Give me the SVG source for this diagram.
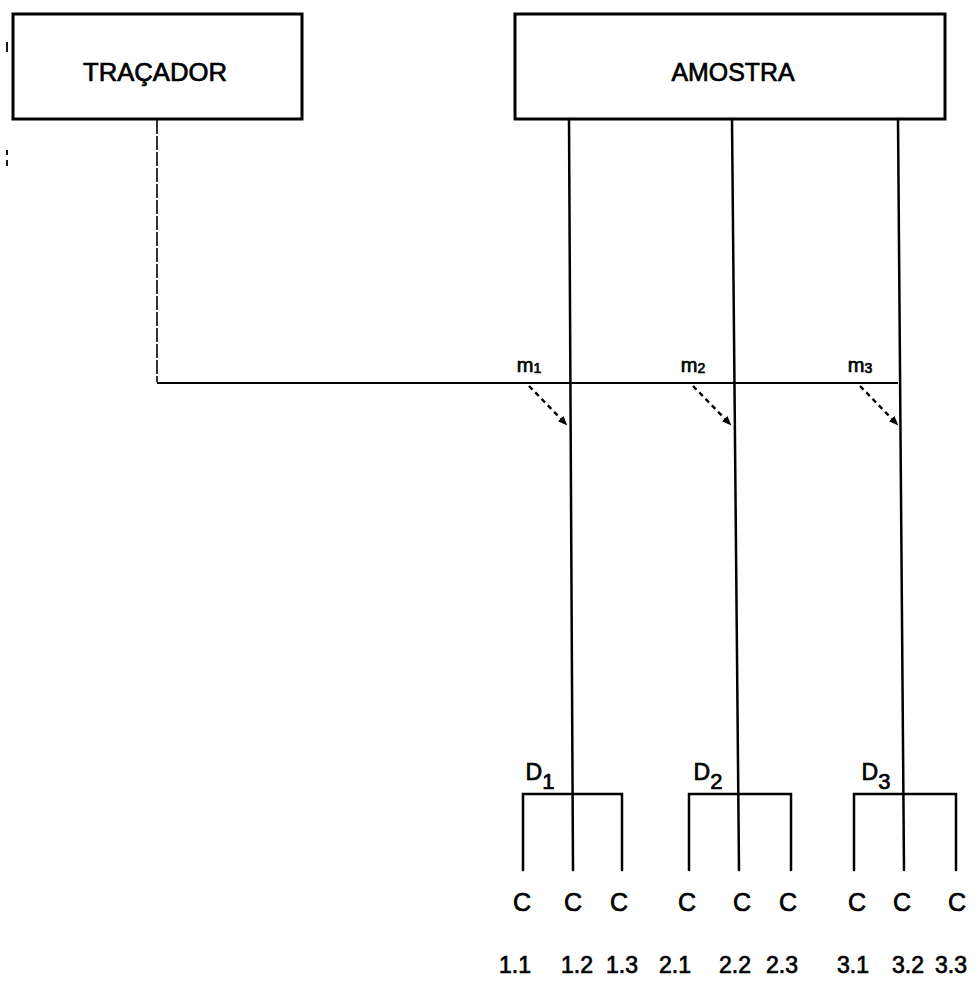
<svg xmlns="http://www.w3.org/2000/svg" width="977" height="981" viewBox="0 0 977 981">
<defs>
<marker id="dot" viewBox="0 0 10 10" refX="8" refY="5" markerWidth="4" markerHeight="4" orient="auto">
<path d="M0,1 L10,5 L0,9 Z" fill="#000"/>
</marker>
<style>
.box{fill:#fff;stroke:#000;stroke-width:3}
.ln{stroke:#000;stroke-width:2.5;fill:none;stroke-linecap:round}
.thin{stroke:#000;stroke-width:1.8;fill:none}
.dash{stroke:#000;stroke-width:2.4;fill:none;stroke-dasharray:5,4}
.t{font-family:"Liberation Sans","DejaVu Sans",sans-serif;fill:#000;stroke:#000;stroke-width:0.7;text-anchor:middle}
</style>
</defs>
<rect width="977" height="981" fill="#fff"/>
<g id="artifacts" class="thin">
<line x1="7" y1="42" x2="7" y2="52"/>
<line x1="7" y1="150" x2="7" y2="155"/>
<line x1="7" y1="160" x2="7" y2="166"/>
</g>
<g id="tracador">
<rect class="box" x="13" y="14" width="289" height="105"/>
<text class="t" x="155" y="81" font-size="26" textLength="144" lengthAdjust="spacingAndGlyphs">TRAÇADOR</text>
</g>
<g id="amostra">
<rect class="box" x="515" y="14" width="430" height="105"/>
<text class="t" x="733" y="81" font-size="26" textLength="123" lengthAdjust="spacingAndGlyphs">AMOSTRA</text>
</g>
<g id="connectors">
<line x1="157" y1="120" x2="157" y2="382" stroke="#000" stroke-width="1.6" stroke-dasharray="14,2"/>
<line class="thin" x1="157" y1="383" x2="898" y2="383"/>
<line class="ln" x1="569" y1="119" x2="573" y2="870"/>
<line class="ln" x1="732" y1="119" x2="739" y2="870"/>
<line class="ln" x1="898" y1="119" x2="904" y2="870"/>
<line class="dash" x1="529" y1="386" x2="566" y2="424" marker-end="url(#dot)"/>
<line class="dash" x1="693" y1="386" x2="730" y2="424" marker-end="url(#dot)"/>
<line class="dash" x1="860" y1="386" x2="897" y2="424" marker-end="url(#dot)"/>
<polyline class="ln" points="523,870 523,794 622,794 622,870"/>
<polyline class="ln" points="689,870 689,794 791,794 791,870"/>
<polyline class="ln" points="854,870 854,794 956,794 956,870"/>
</g>
<g id="m-labels">
<text class="t" x="529" y="372" font-size="20">m<tspan font-size="14" dy="1">1</tspan></text>
<text class="t" x="693" y="372" font-size="20">m<tspan font-size="14" dy="1">2</tspan></text>
<text class="t" x="860" y="372" font-size="20">m<tspan font-size="14" dy="1">3</tspan></text>
</g>
<g id="d1"><text class="t" x="540" y="780" font-size="23">D<tspan font-size="22" dy="9">1</tspan></text></g>
<g id="d2"><text class="t" x="708" y="780" font-size="23">D<tspan font-size="22" dy="9">2</tspan></text></g>
<g id="d3"><text class="t" x="876" y="780" font-size="23">D<tspan font-size="22" dy="9">3</tspan></text></g>
<g id="c-labels">
<text class="t" x="522" y="911" font-size="25">C</text>
<text class="t" x="573" y="911" font-size="25">C</text>
<text class="t" x="619" y="911" font-size="25">C</text>
<text class="t" x="687" y="911" font-size="25">C</text>
<text class="t" x="742" y="911" font-size="25">C</text>
<text class="t" x="788" y="911" font-size="25">C</text>
<text class="t" x="857" y="911" font-size="25">C</text>
<text class="t" x="902" y="911" font-size="25">C</text>
<text class="t" x="957" y="911" font-size="25">C</text>
</g>
<g id="numbers">
<text class="t" x="515" y="973" font-size="23">1.1</text>
<text class="t" x="577" y="973" font-size="23">1.2</text>
<text class="t" x="622" y="973" font-size="23">1.3</text>
<text class="t" x="675" y="973" font-size="23">2.1</text>
<text class="t" x="735" y="973" font-size="23">2.2</text>
<text class="t" x="782" y="973" font-size="23">2.3</text>
<text class="t" x="853" y="973" font-size="23">3.1</text>
<text class="t" x="908" y="973" font-size="23">3.2</text>
<text class="t" x="951" y="973" font-size="23">3.3</text>
</g>
</svg>
